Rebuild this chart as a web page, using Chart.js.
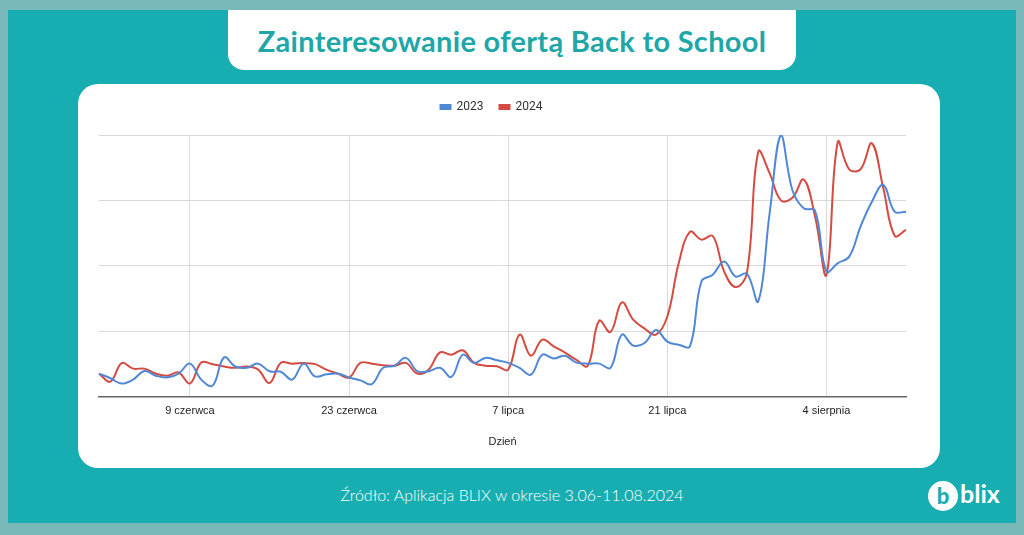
<!DOCTYPE html>
<html><head><meta charset="utf-8">
<script src="https://cdn.jsdelivr.net/npm/chart.js@4.4.1/dist/chart.umd.min.js"></script>
<style>
html,body{margin:0;padding:0;}
body{width:1024px;height:535px;background:#79b8b8;position:relative;overflow:hidden;font-family:"Lato","Open Sans",sans-serif;}
#teal{position:absolute;left:8px;top:10px;width:1008px;height:513px;background:#18aeb1;}
#titlebox{position:absolute;left:228px;top:10px;width:568px;height:60px;background:#fff;border-radius:0 0 16px 16px;display:flex;align-items:center;justify-content:center;}
#titlebox span{font-family:"Lato",sans-serif;font-weight:700;font-size:29px;color:#21a6a8;letter-spacing:0.3px;}
#card{position:absolute;left:78px;top:84px;width:862px;height:384px;background:#fff;border-radius:20px;}
#cv{position:absolute;left:78px;top:84px;}
#foot{position:absolute;left:0;width:1024px;top:485px;text-align:center;color:#fff;font-family:"Lato",sans-serif;font-weight:300;font-size:16px;}
#logo{position:absolute;left:928px;top:481px;width:30px;height:30px;border-radius:50%;background:#fff;color:#18aeb1;font:900 22px "Lato",sans-serif;text-align:center;line-height:29px;}
#blix{position:absolute;left:960px;top:478px;color:#fff;font:700 25px "Lato",sans-serif;}
</style></head><body>
<div id="teal"></div>
<div id="titlebox"><span>Zainteresowanie ofertą Back to School</span></div>
<div id="card"></div>
<canvas id="cv" width="862" height="384"></canvas>
<div id="foot">Źródło: Aplikacja BLIX w okresie 3.06-11.08.2024</div>
<div id="logo">b</div>
<div id="blix">blix</div>
<script>
const categories = [
 '1.06','2.06','3.06','4.06','5.06','6.06','7.06','8.06','9.06','10.06','11.06','12.06','13.06','14.06','15.06',
 '16.06','17.06','18.06','19.06','20.06','21.06','22.06','23.06','24.06','25.06','26.06','27.06','28.06','29.06','30.06',
 '1.07','2.07','3.07','4.07','5.07','6.07','7.07','8.07','9.07','10.07','11.07','12.07','13.07','14.07','15.07',
 '16.07','17.07','18.07','19.07','20.07','21.07','22.07','23.07','24.07','25.07','26.07','27.07','28.07','29.07','30.07','31.07',
 '1.08','2.08','3.08','4.08','5.08','6.08','7.08','8.08','9.08','10.08','11.08'];
const series2023 = [
 8.8,7,5,6.5,9.8,8,7.3,8.8,12.6,6.5,4.2,15,11.5,11,12.6,9.7,9.5,6.5,12.6,7.7,8.5,8.8,7.3,6.2,4.8,
 11,11.8,14.8,9.7,9.7,11,7.5,16,12.9,14.8,13.9,12.9,11,8.4,16,14.6,15.6,13,12.6,12.6,11,23.7,19.5,20.5,
 25.5,21,19.8,19.3,44,46.6,51.6,45.9,47,36.4,70,100,79,72,71,47.8,51,53.5,65,74.5,80.9,70.7,70.7];
const series2024 = [
 8.8,5.7,12.8,10.7,10.7,8.8,8,9.2,5,13,12.4,11.5,11,11.5,10.3,5.2,12.9,12.6,12.8,12.4,10.3,8.8,7.3,12.9,12.6,
 12,11.8,12.9,8.8,10.3,16.9,16,17.7,12.9,11.8,11.6,10.3,23.7,15.6,21.8,19.2,16.8,14,11.8,29,24.7,36,29.4,26,
 23.7,30.6,51,63,60,61.4,47.8,41.9,47.2,93.6,85.4,75,76,83,68.8,46.6,97.4,86.9,86.9,96.8,79.7,61.5,63.7];
const seriesNames = ['2023','2024'];
const tickDays = ['9.06','23.06','7.07','21.07','4.08'];
const tickLabels = ['9 czerwca','23 czerwca','7 lipca','21 lipca','4 sierpnia'];
const yTicks = [0,25,50,75,100];
const axisTitle = 'Dzień';

const FONT = '"Liberation Sans", Arial, sans-serif';
const legendTweak = {
  id:'legendTweak',
  beforeInit(chart){
    const lg = chart.legend;
    if(lg){ const f = lg.fit; lg.fit = function(){ f.call(this); this.height += 12; }; }
  },
  afterLayout(chart){
    const lg = chart.legend;
    if(lg){ lg.left -= 11; lg.right -= 11; }
  }
};
new Chart(document.getElementById('cv'), {
  type: 'line',
  data: {
    labels: categories,
    datasets: [
      {label: seriesNames[0], data: series2023, borderColor:'#5088d6', backgroundColor:'#5088d6', borderWidth:2, pointRadius:0, tension:0.4, fill:false},
      {label: seriesNames[1], data: series2024, borderColor:'#d54b41', backgroundColor:'#d54b41', borderWidth:2, pointRadius:0, tension:0.4, fill:false}
    ]
  },
  plugins:[legendTweak],
  options: {
    responsive:false, animation:false, devicePixelRatio:1,
    layout:{padding:{left:21,right:34,top:1,bottom:19}},
    plugins:{
      legend:{position:'top', labels:{boxWidth:10, boxHeight:4, padding:16, color:'#333', font:{family:'Roboto, sans-serif', size:12}}},
      tooltip:{enabled:false}
    },
    scales:{
      x:{
        grid:{drawTicks:false, color:(c)=> (c.tick && tickDays.includes(categories[c.tick.value])) ? '#d9d9d9' : 'rgba(0,0,0,0)'},
        border:{color:'#666', width:1.5},
        ticks:{autoSkip:false, maxRotation:0, padding:8, color:'#222', font:{family:FONT, size:11},
          callback:function(v,i){const k=tickDays.indexOf(categories[i]); return k>=0?tickLabels[k]:'';}},
        title:{display:true, text:axisTitle, color:'#222', font:{family:FONT, size:11}, padding:{top:10,bottom:0}}
      },
      y:{
        min:0, max:100,
        afterBuildTicks:(s)=>{s.ticks = yTicks.map(v=>({value:v}));},
        grid:{drawTicks:false, color:(c)=> c.tick && c.tick.value===0 ? 'rgba(0,0,0,0)' : '#d9d9d9'},
        border:{display:false},
        ticks:{display:false}
      }
    }
  }
});
</script>
</body></html>
